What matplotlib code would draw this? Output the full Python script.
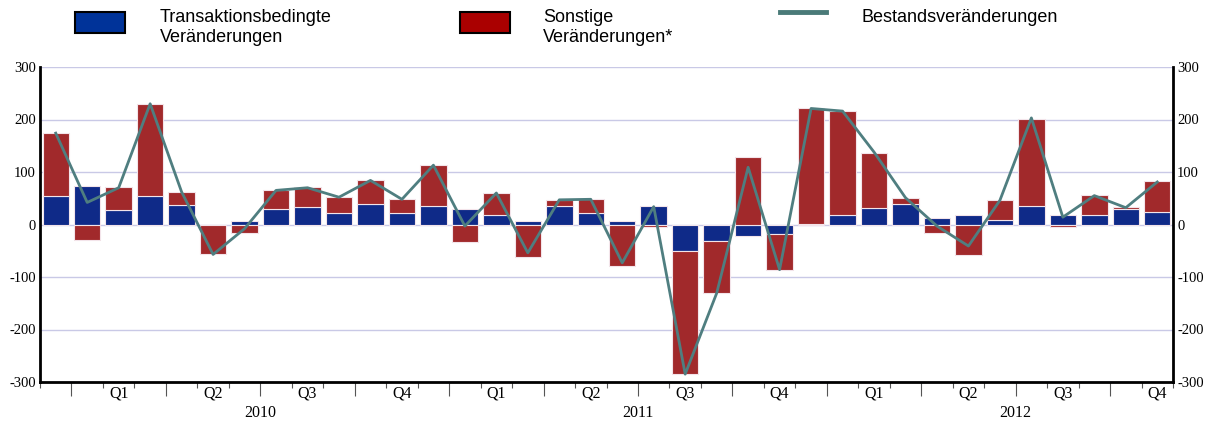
import matplotlib.pyplot as plt
from matplotlib.patches import Rectangle
from matplotlib.lines import Line2D
import matplotlib.transforms as mtransforms

# monthly values, 36 bars (Dec 2009 .. Nov 2012)
transaktion = [55, 73, 27, 55, 37, 0, 7, 29, 33, 22, 39, 22,
               35, 30, 19, 7, 36, 21, 6, 36, -50, -32, -22, -18,
               1, 19, 31, 39, 13, 18, 9, 35, 18, 19, 29, 23]
sonstige = [119, -30, 44, 175, 25, -57, -16, 36, 38, 30, 45, 27,
            78, -34, 41, -61, 11, 27, -79, -4, -235, -99, 129, -68,
            220, 197, 106, 12, -16, -59, 38, 166, -4, 37, 4, 59]
bestand = [174, 42, 70, 230, 62, -57, -8, 65, 70, 52, 84, 48,
           113, -3, 60, -54, 47, 48, -73, 34, -285, -131, 109, -86,
           221, 216, 138, 51, -3, -41, 46, 203, 14, 55, 32, 81]

quartale = ["Q1", "Q2", "Q3", "Q4"] * 3
jahre = ["2010", "2011", "2012"]
yticks = [-300, -200, -100, 0, 100, 200, 300]

blau = "#0f2a88"
rot = "#a1292b"
linie = "#4f7e80"

fig = plt.figure(figsize=(12.1, 4.25), dpi=100)
ax = fig.add_axes([40/1210, 1-382/425, (1173-40)/1210, (382-67)/425])

x = list(range(len(transaktion)))
rot_bottom = []
for b, r in zip(transaktion, sonstige):
    if (b >= 0 and r >= 0) or (b < 0 and r < 0):
        rot_bottom.append(b)
    else:
        rot_bottom.append(0)

ax.bar(x, transaktion, width=0.84, color=blau, edgecolor="#f3e4ea", linewidth=0.8, zorder=2)
ax.bar(x, sonstige, bottom=rot_bottom, width=0.84, color=rot, edgecolor="#f3e4ea", linewidth=0.8, zorder=2)
ax.plot(x, bestand, color=linie, linewidth=2, zorder=3)

ax.set_xlim(-0.5, len(x) - 0.5)
ax.set_ylim(-300, 300)
ax.set_yticks(yticks)
ax.set_yticklabels([str(v) for v in yticks], fontfamily="Liberation Serif", fontsize=10.5)
ax.tick_params(axis="y", length=0, pad=3, labelright=True, right=True)
for y in yticks:
    ax.axhline(y, color="#c9c9e6", linewidth=1, zorder=1)

for s in ["left", "right", "bottom"]:
    ax.spines[s].set_linewidth(2)
ax.spines["top"].set_visible(False)

# x ticks: small at every month, long at quarter borders
ax.set_xticks([i - 0.5 for i in range(len(x) + 1)], minor=True)
ax.set_xticks([i + 0.5 for i in range(0, len(x) - 1, 3)])
ax.set_xticklabels([])
ax.tick_params(axis="x", which="minor", length=4, width=0.8, color="#555555")
ax.tick_params(axis="x", which="major", length=10, width=0.8, color="#555555")

trans = ax.get_xaxis_transform()
off = mtransforms.offset_copy(trans, fig=fig, y=-12, units="dots")
for k, q in enumerate(quartale):
    ax.text(2 + 3*k, 0, q, transform=off, ha="center", va="center",
            fontfamily="Liberation Serif", fontsize=11.5)
off2 = mtransforms.offset_copy(trans, fig=fig, y=-31, units="dots")
for k, j in enumerate(jahre):
    ax.text(6.5 + 12*k, 0, j, transform=off2, ha="center", va="center",
            fontfamily="Liberation Serif", fontsize=11.5)

# legend drawn at the top
def px(xp, yp):
    return xp/1210, 1 - yp/425

fig.add_artist(Rectangle(px(75, 33), 50/1210, 21/425, facecolor="#003399",
                         edgecolor="black", linewidth=1.5, transform=fig.transFigure))
fig.add_artist(Rectangle(px(460, 33), 50/1210, 21/425, facecolor="#aa0000",
                         edgecolor="black", linewidth=1.5, transform=fig.transFigure))
fig.add_artist(Line2D([780/1210, 826/1210], [1-12/425, 1-12/425], color="#4a7a78",
                      linewidth=3.5, transform=fig.transFigure))

lf = dict(fontfamily="Liberation Sans", fontsize=13, va="center", ha="left")
fig.text(*px(160, 17), "Transaktionsbedingte", **lf)
fig.text(*px(160, 37), "Veränderungen", **lf)
fig.text(*px(543, 17), "Sonstige", **lf)
fig.text(*px(543, 37), "Veränderungen*", **lf)
fig.text(*px(861, 17), "Bestandsveränderungen", **lf)

fig.savefig("out.png", dpi=100)
